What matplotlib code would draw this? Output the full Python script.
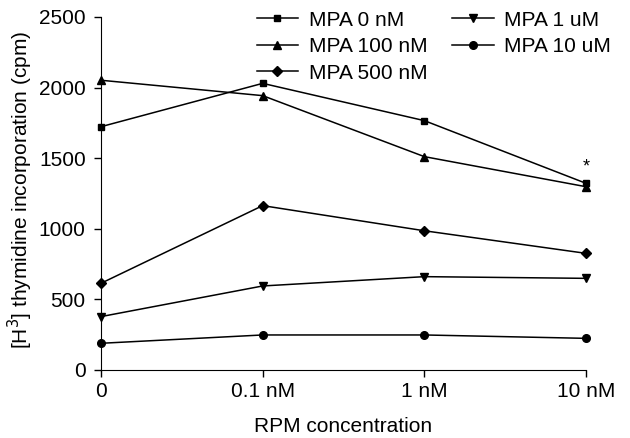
import matplotlib.pyplot as plt

plt.rcParams['font.family'] = ['Liberation Sans', 'DejaVu Sans']

# dati
categorie = ['0', '0.1 nM', '1 nM', '10 nM']
mpa_0nM = [1723, 2030, 1766, 1322]
mpa_100nM = [2052, 1943, 1511, 1298]
mpa_500nM = [614, 1164, 986, 826]
mpa_1uM = [378, 595, 661, 649]
mpa_10uM = [189, 248, 248, 224]
asterisco_y = 1375

serie = [
    ('MPA 0 nM', mpa_0nM, 's', 5),
    ('MPA 100 nM', mpa_100nM, '^', 6),
    ('MPA 500 nM', mpa_500nM, 'D', 5),
    ('MPA 1 uM', mpa_1uM, 'v', 6),
    ('MPA 10 uM', mpa_10uM, 'o', 5.5),
]

fig = plt.figure(figsize=(6.3, 4.38), dpi=100)
ax = fig.add_axes([0.1603, 0.1553, 0.7699, 0.8059])

x = list(range(len(categorie)))
for nome, valori, m, ms in serie:
    ax.plot(x, valori, color='black', lw=1.1, marker=m, ms=ms,
            label=nome, clip_on=False)

ax.text(3, asterisco_y, '*', ha='center', va='bottom', fontsize=13)

ax.set_xlim(0, 3)
ax.set_ylim(0, 2500)
ax.set_xticks(x)
ax.set_xticklabels(categorie)
ax.set_yticks([0, 500, 1000, 1500, 2000, 2500])
ax.spines['top'].set_visible(False)
ax.spines['right'].set_visible(False)
ax.tick_params(direction='out', length=5, width=1, labelsize=15)
ax.tick_params(axis='y', pad=6)
ax.tick_params(axis='x', pad=4)
ax.set_xlabel('RPM concentration', fontsize=15, labelpad=11)
ax.set_ylabel('[H$^3$] thymidine incorporation (cpm)', fontsize=15)
ax.yaxis.set_label_coords(-0.137, 0.51)

ax.legend(ncol=2, loc='upper left', bbox_to_anchor=(0.394, 0.995),
          bbox_transform=fig.transFigure, frameon=False, fontsize=15,
          handlelength=2.0, handletextpad=0.5, columnspacing=1.2,
          labelspacing=0.36, borderaxespad=0)

fig.savefig('out.png', dpi=100)
